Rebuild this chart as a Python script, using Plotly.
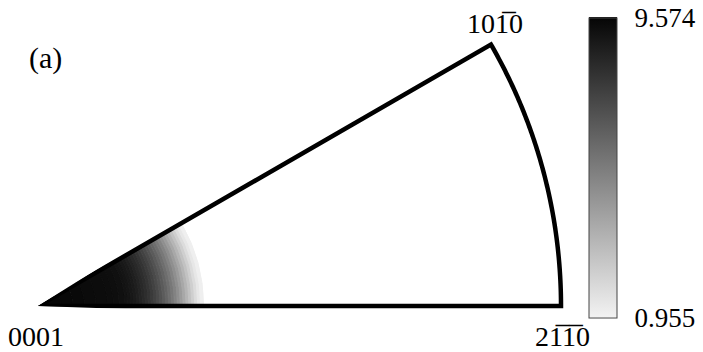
import numpy as np
import plotly.graph_objects as go

# Inverse pole figure density, hexagonal standard triangle (0001)-(10-10)-(2-1-10).
# Rings of tilt angle from [0001] (degrees) and their mean density (m.r.d.).
ring_edges = [0, 2, 4, 6, 8, 10, 12, 13, 14, 15, 15.5, 16, 16.5, 17, 17.5, 18, 18.5,
              19, 19.5, 20, 20.5, 21, 21.5, 22, 22.5, 23, 23.5, 24, 24.5, 25, 25.5,
              26, 26.5, 27, 27.5, 28, 28.5]
ring_density = [9.57, 9.52, 9.47, 9.42, 9.37, 9.32, 9.28, 9.24, 9.18, 9.06,
                8.98, 8.88, 8.76, 8.62, 8.46, 8.28, 8.08, 7.86, 7.62, 7.36, 7.08,
                6.78, 6.46, 6.12, 5.76, 5.38, 4.98, 4.56, 4.12, 3.66, 3.18, 2.70,
                2.22, 1.76, 1.36, 1.05]

density_min = 0.955
density_max = 9.574

BAR = "\u0305"  # combining overline for negative Miller-Bravais indices
corner_labels = ["0001", "101" + BAR + "0", "21" + BAR + "1" + BAR + "0"]
panel_label = "(a)"

W, H = 703, 352
FONT = "Liberation Serif"
gray = [[0.0, "#f2f2f2"], [1.0, "#050505"]]

# polar frame: a little angular/radial slack so the outline is not clipped
R_MAX, R_PLOT = 90, 92
SECTOR = [-2, 32]
apex_x, apex_y, r_px = 38, 306, 523          # pixel geometry of the triangle
full_px = r_px * R_PLOT / R_MAX
dom_x = [apex_x / W, (apex_x + full_px) / W]
dom_y = [(H - (apex_y + full_px * np.sin(np.radians(-SECTOR[0])))) / H,
         (H - (apex_y - full_px * np.sin(np.radians(SECTOR[1])))) / H]

base = ring_edges[:-1]
thick = [b - a for a, b in zip(ring_edges[:-1], ring_edges[1:])]

fig = go.Figure()
fig.add_trace(go.Barpolar(
    r=thick, base=base, theta=[15] * len(thick), width=[30] * len(thick),
    marker=dict(
        color=ring_density, colorscale=gray, cmin=density_min, cmax=density_max,
        line=dict(width=1, color=ring_density, colorscale=gray,
                  cmin=density_min, cmax=density_max),
        showscale=True,
        colorbar=dict(
            x=589 / W, xanchor="left", xpad=0,
            y=1 - 17.5 / H, yanchor="top", ypad=0,
            len=300, lenmode="pixels", thickness=28,
            outlinewidth=1, outlinecolor="#444",
            tickvals=[density_min, density_max], tickformat=".3f",
            ticks="outside", ticklen=12, tickcolor="rgba(0,0,0,0)",
            tickfont=dict(family=FONT, size=27, color="black"),
        ),
    ),
    hoverinfo="skip", showlegend=False,
))

# outline of the standard triangle: two great-circle edges and the outer arc
arc = np.linspace(0, 30, 121)
fig.add_trace(go.Scatterpolar(
    r=[0] + [R_MAX] * len(arc) + [0], theta=[0] + list(arc) + [30],
    mode="lines", line=dict(color="black", width=4.5), cliponaxis=False,
    hoverinfo="skip", showlegend=False,
))

def label(text, x, y, size=28):
    return dict(text=text, x=x / W, y=1 - y / H, xref="paper", yref="paper",
                xanchor="center", yanchor="middle", showarrow=False,
                font=dict(family=FONT, size=size, color="black"))

fig.update_layout(
    width=W, height=H, margin=dict(l=0, r=0, t=0, b=0),
    paper_bgcolor="white", plot_bgcolor="white",
    polar=dict(
        sector=SECTOR, hole=0, bgcolor="white", barmode="overlay",
        domain=dict(x=dom_x, y=dom_y),
        radialaxis=dict(range=[0, R_PLOT], showline=False, showgrid=False,
                        showticklabels=False, ticks="", angle=0),
        angularaxis=dict(showline=False, showgrid=False,
                         showticklabels=False, ticks=""),
    ),
    annotations=[
        label(panel_label, 45, 58, 30),
        label(corner_labels[0], 36, 336),
        label(corner_labels[1], 495, 24),
        label(corner_labels[2], 562, 336),
    ],
)

fig.write_html("out.html")
